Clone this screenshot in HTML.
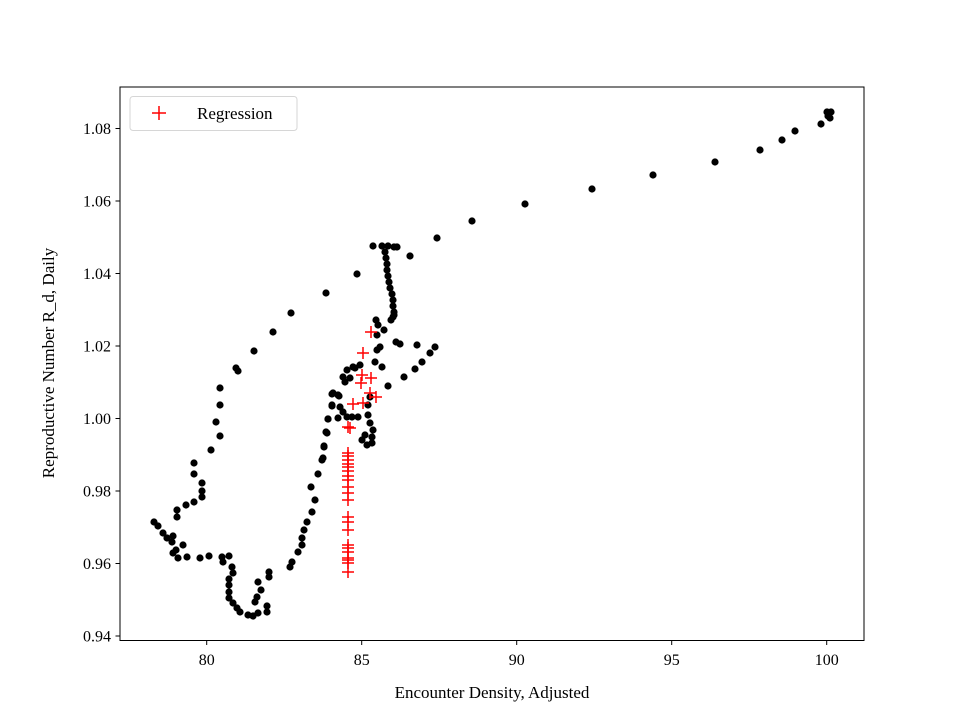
<!DOCTYPE html>
<html><head><meta charset="utf-8"><style>body{margin:0;background:#fff}svg{display:block}text{font-family:"Liberation Serif",serif;fill:#000}</style></head><body>
<svg width="960" height="720" viewBox="0 0 960 720" xmlns="http://www.w3.org/2000/svg">
<rect width="960" height="720" fill="#fff"/>
<g id="pts" fill="#000"></g>
<g id="crs" stroke="#f00" stroke-width="1.5" fill="none"></g>
<rect x="120" y="87" width="744" height="553.5" fill="none" stroke="#000" stroke-width="1"/>
<g stroke="#000" stroke-width="1">
<line x1="206.7" y1="640.5" x2="206.7" y2="645"/><line x1="361.7" y1="640.5" x2="361.7" y2="645"/><line x1="516.7" y1="640.5" x2="516.7" y2="645"/><line x1="671.7" y1="640.5" x2="671.7" y2="645"/><line x1="826.7" y1="640.5" x2="826.7" y2="645"/>
<line x1="115.5" y1="636" x2="120" y2="636"/><line x1="115.5" y1="563.5" x2="120" y2="563.5"/><line x1="115.5" y1="491" x2="120" y2="491"/><line x1="115.5" y1="418.5" x2="120" y2="418.5"/><line x1="115.5" y1="346" x2="120" y2="346"/><line x1="115.5" y1="273.5" x2="120" y2="273.5"/><line x1="115.5" y1="201" x2="120" y2="201"/><line x1="115.5" y1="128.5" x2="120" y2="128.5"/>
</g>
<g font-size="16" text-anchor="middle">
<text x="206.7" y="665">80</text><text x="361.7" y="665">85</text><text x="516.7" y="665">90</text><text x="671.7" y="665">95</text><text x="826.7" y="665">100</text>
</g>
<g font-size="16" text-anchor="end">
<text x="111" y="641.5">0.94</text><text x="111" y="569">0.96</text><text x="111" y="496.5">0.98</text><text x="111" y="424">1.00</text><text x="111" y="351.5">1.02</text><text x="111" y="279">1.04</text><text x="111" y="206.5">1.06</text><text x="111" y="134">1.08</text>
</g>
<text x="492" y="698" font-size="17" text-anchor="middle">Encounter Density, Adjusted</text>
<text transform="translate(54,363) rotate(-90)" font-size="17" text-anchor="middle">Reproductive Number R_d, Daily</text>
<rect x="130" y="96.5" width="167" height="34" rx="3" fill="#fff" stroke="#d6d6d6" stroke-width="1"/>
<g stroke="#f00" stroke-width="1.5"><line x1="152" y1="113" x2="166" y2="113"/><line x1="159" y1="106" x2="159" y2="120"/></g>
<text x="197" y="119" font-size="17">Regression</text>
<script>
var P=[[437,238],[472,221],[525,204],[592,189],[653,175],[715,162],[760,150],[782,140],[795,131],[821,124],[827,112],[831,112],[830,118],[828,116],
[410,256],[357,274],[326,293],[291,313],[273,332],[254,351],[236,368],
[373,246],[382,246],[388,246],[394,247],[397,247],[385,252],[386,258],[387,264],[387,270],[388,276],[389,282],[390,288],[392,294],[393,300],[393,306],[394,312],[393,317],[391,320],
[394,315],[376,320],[378,325],[384,330],[377,335],[396,342],[400,344],[380,347],[417,345],[435,347],[430,353],[422,362],[415,369],[404,377],[388,386],[377,350],[375,362],[382,367],[360,365],[353,367],[347,370],[343,377],[345,382],[350,378],[355,368],[333,393],[338,395],[332,405],[340,407],[343,412],[347,417],[368,405],[370,397],[368,415],[370,423],[373,430],[372,437],[365,435],[362,440],[367,445],[372,443],[328,419],[326,432],[324,446],[323,458],[358,417],[352,417],
[238,371],[220,388],[220,405],[216,422],[220,436],[211,450],[194,463],[194,474],[202,483],[202,491],[202,497],[194,502],[186,505],[177,510],[177,517],[154,522],[158,526],[163,533],[167,538],[173,536],[172,542],[183,545],[176,550],[178,558],[173,553],[187,557],[200,558],[209,556],[222,557],[229,556],[223,562],[232,567],[233,573],[229,579],[229,585],[229,592],[229,598],[233,603],[237,608],[240,612],[248,615],[253,616],[258,613],[267,612],[267,606],[255,602],[257,597],[261,590],[258,582],[269,577],[269,572],[290,567],[292,562],[298,552],[302,545],[302,538],[304,530],[307,522],[312,512],[315,500],[311,487],[318,474],[322,460],[324,447],[327,433],[328,419],[332,406],[332,394],[339,396],[338,418]];
var C=[[371,332],[363,353],[362,375],[371,378],[361,383],[370,393],[376,397],[353,404],[363,403],[348,427],[350,428],[348,453],[348,456],[348,460],[348,464],[348,467],[348,471],[348,476],[348,480],[348,487],[348,493],[348,500],[348,517],[348,522],[348,530],[348,545],[348,548],[348,552],[348,558],[348,560],[348,563],[348,572]];
var ns="http://www.w3.org/2000/svg",g=document.getElementById("pts"),h=document.getElementById("crs");
P.forEach(function(p){var c=document.createElementNS(ns,"circle");c.setAttribute("cx",p[0]);c.setAttribute("cy",p[1]);c.setAttribute("r","3.6");g.appendChild(c);});
C.forEach(function(p){var a=document.createElementNS(ns,"path");a.setAttribute("d","M"+(p[0]-6)+" "+p[1]+"h12M"+p[0]+" "+(p[1]-6)+"v12");h.appendChild(a);});
</script>
</svg>
</body></html>
